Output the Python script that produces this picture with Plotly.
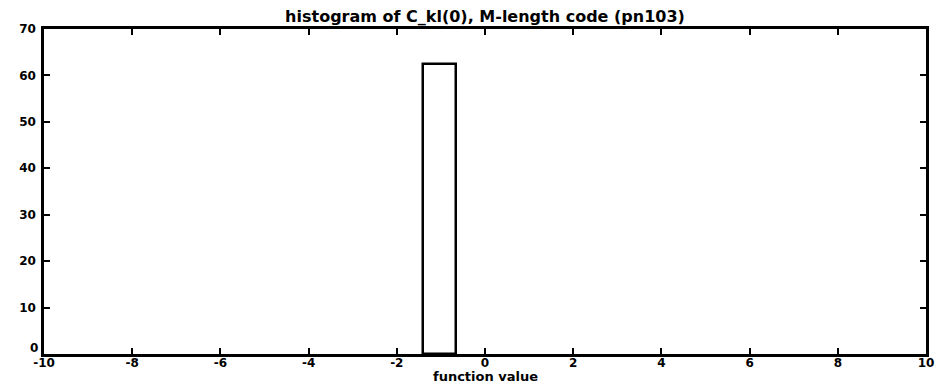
import plotly.graph_objects as go

# Histogram bins of C_kl(0) values and counts
bin_centers = [-1.03]
bin_counts = [62.5]
bin_width = 0.74

x_ticks = [-10, -8, -6, -4, -2, 0, 2, 4, 6, 8, 10]
y_ticks = [0, 10, 20, 30, 40, 50, 60, 70]

FAMILY = "DejaVu Sans, Liberation Sans, Arial, sans-serif"
tick_font = dict(family=FAMILY, size=12, color="black", weight="bold")
label_font = dict(family=FAMILY, size=13, color="black", weight="bold")

fig = go.Figure()
fig.add_trace(go.Bar(
    x=bin_centers,
    y=bin_counts,
    width=bin_width,
    marker=dict(color="white", line=dict(color="black", width=2.5)),
    showlegend=False,
))

axis_common = dict(
    showgrid=False,
    zeroline=False,
    showline=True,
    linecolor="black",
    linewidth=2.5,
    mirror="ticks",
    ticks="inside",
    ticklen=6,
    tickwidth=2,
    tickcolor="black",
    tickfont=tick_font,
    automargin=False,
)

# the y origin label sits a little above the corner so it clears the x labels
y_ticktext = ["" if v == y_ticks[0] else str(v) for v in y_ticks]

fig.update_layout(
    width=941,
    height=383,
    margin=dict(l=44, r=15, t=29, b=29),
    paper_bgcolor="white",
    plot_bgcolor="white",
    title=dict(
        text="histogram of C_kl(0), M-length code (pn103)",
        xref="paper", x=0.5, xanchor="center",
        yref="container", y=0.958, yanchor="middle",
        font=dict(family=FAMILY, size=16, color="black", weight="bold"),
    ),
    xaxis=dict(
        range=[-10, 10],
        tickvals=x_ticks,
        ticktext=[str(v) for v in x_ticks],
        ticklabelstandoff=-4,
        **axis_common,
    ),
    yaxis=dict(
        range=[0, 70],
        tickvals=y_ticks,
        ticktext=y_ticktext,
        ticklabelstandoff=3,
        **axis_common,
    ),
    bargap=0,
    annotations=[
        dict(
            text="function value",
            xref="paper", yref="paper",
            x=0.5, y=-0.068, xanchor="center", yanchor="middle",
            showarrow=False,
            font=label_font,
        ),
        dict(
            text=str(y_ticks[0]),
            xref="paper", yref="paper",
            x=-0.005, y=0.02, xanchor="right", yanchor="middle",
            showarrow=False,
            font=tick_font,
        ),
    ],
)

fig.write_html("out.html")
